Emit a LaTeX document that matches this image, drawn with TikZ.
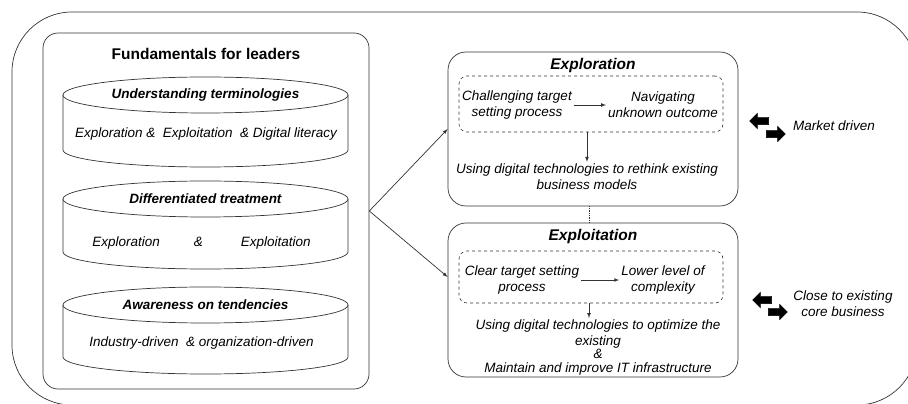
\documentclass[tikz,border=0pt]{standalone}
\usepackage{fontspec}
\setmainfont{Liberation Sans}
\usetikzlibrary{positioning,shapes.arrows}
\tikzset{body/.style={font=\fontsize{13.5}{16}\selectfont\itshape, align=center, inner sep=2pt}}

\begin{document}
\begin{tikzpicture}[x=1pt,y=1pt,>=latex,
line/.style={draw=black!80, line width=0.7pt},
roundbox/.style={line, rounded corners=18pt, minimum width=290pt, minimum height=154pt},
dashbox/.style={draw=black!80, line width=0.6pt, dashed, rounded corners=8pt, minimum width=264pt},
cyl/.style={line, fill=white},
head/.style={font=\fontsize{15.5}{18}\selectfont\bfseries, inner sep=2pt},
cylhead/.style={font=\fontsize{13.5}{16}\selectfont\bfseries\itshape, inner sep=2pt},
blockarrow/.style={single arrow, fill=black, draw=black, inner sep=3.5pt, minimum height=19pt, single arrow head extend=4pt, single arrow tip angle=90},
]
\useasboundingbox (0,0) rectangle (908,404);
\clip (0,0) rectangle (908,404);
\draw[line, rounded corners=60pt] (12,-1) rectangle (917,392);

%Nodes
\node[line, rounded corners=15pt, minimum width=326pt, minimum height=356pt] (fund) at (206,193) {};
\node[head, below=13pt of fund.north] (fundhead) {Fundamentals for leaders};

%Cylinders
\draw[cyl] (63,309) -- (63,254) arc[start angle=180,end angle=360,x radius=142.5,y radius=17] -- (348,309);
\draw[cyl] (205.5,309) ellipse[x radius=142.5,y radius=18];
\node[cylhead] (termhead) at (205.5,309) {Understanding terminologies};
\node[body] (termbody) at (206,270) {Exploration \&\ \ Exploitation\ \ \& Digital literacy};

\draw[cyl] (63,205) -- (63,152) arc[start angle=180,end angle=360,x radius=142.5,y radius=17] -- (348,205);
\draw[cyl] (205.5,205) ellipse[x radius=142.5,y radius=18];
\node[cylhead] (treathead) at (205.5,205) {Differentiated treatment};
\node[body] (treatbody) at (201.5,161) {Exploration\hspace{34pt}\&\hspace{38pt}Exploitation};

\draw[cyl] (63,99) -- (63,47) arc[start angle=180,end angle=360,x radius=142.5,y radius=17] -- (348,99);
\draw[cyl] (205.5,99) ellipse[x radius=142.5,y radius=18];
\node[cylhead] (tendhead) at (205.5,99) {Awareness on tendencies};
\node[body] (tendbody) at (201.5,61) {Industry-driven\ \ \& organization-driven};

%Exploration
\node[roundbox] (explor) at (593,275) {};
\node[head, font=\fontsize{15.5}{18}\selectfont\bfseries\itshape, below=4pt of explor.north] (explorhead) {Exploration};
\node[dashbox, minimum height=56pt] (explordash) at (591,300) {};
\node[body] (chal) at (517,299) {Challenging target\\setting process};
\node[body] (nav) at (663,299) {Navigating\\unknown outcome};
\node[body] (rethink) at (587,227) {Using digital technologies to rethink existing\\business models};

%Exploitation
\node[roundbox] (exploit) at (593,104) {};
\node[head, font=\fontsize{15.5}{18}\selectfont\bfseries\itshape, below=4pt of exploit.north] (exploithead) {Exploitation};
\node[dashbox, minimum height=52pt] (exploitdash) at (591,127) {};
\node[body] (clear) at (522,124) {Clear target setting\\process};
\node[body] (lower) at (663,124) {Lower level of\\complexity};
\node[body, anchor=north] (optim) at (598,86) {Using digital technologies to optimize the\\existing\\[-3pt]\&\\[-2pt]Maintain and improve IT infrastructure};

%Side arrows
\node[blockarrow, shape border rotate=180] (mktleft) at (761,283) {};
\node[blockarrow] (mktright) at (774,270) {};
\node[body] (market) at (834,278) {Market driven};
\node[blockarrow, shape border rotate=180] (coreleft) at (764,104) {};
\node[blockarrow] (coreright) at (776,92) {};
\node[body] (core) at (843,100) {Close to existing\\core business};

%Lines
\draw[line, ->] (fund.east) -- (explor.west);
\draw[line, ->] (fund.east) -- ([yshift=23pt]exploit.west);
\draw[line, ->] (chal) -- (nav);
\draw[line, ->] (clear) -- (lower);
\draw[line, ->] (rethink.north |- explordash.south) -- (rethink.north);
\draw[line, ->] ([xshift=-9pt]optim.north |- exploitdash.south) -- ([xshift=-9pt]optim.north);
\draw[line, densely dotted] ([xshift=-4pt]explor.south) -- ([xshift=-4pt]exploit.north);
\end{tikzpicture}
\end{document}
